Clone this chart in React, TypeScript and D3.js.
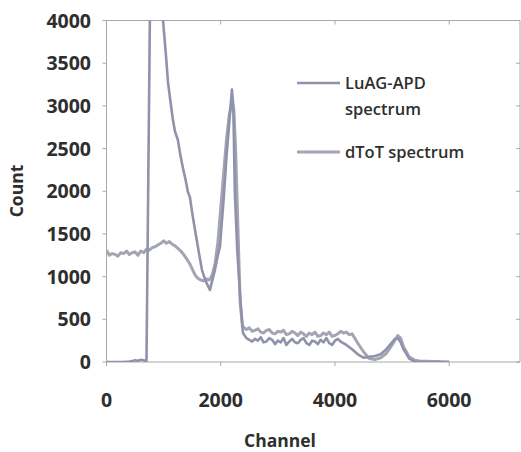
import React from "react";
import * as d3 from "d3";

const W = 521;
const H = 452;

const xTicks = [0, 2000, 4000, 6000];
const yTicks = [0, 500, 1000, 1500, 2000, 2500, 3000, 3500, 4000];

const luagChannels = [0, 100, 200, 300, 400, 450, 500, 550, 600, 650, 690, 700, 765, 850, 950, 990, 1040, 1076, 1120, 1160, 1199, 1250, 1300, 1339, 1380, 1426, 1461, 1500, 1549, 1600, 1671, 1720, 1770, 1811, 1850, 1899, 1950, 1986, 2050, 2100, 2150, 2196, 2220, 2248, 2290, 2336, 2389, 2450, 2500, 2550, 2600, 2650, 2700, 2750, 2800, 2850, 2900, 2950, 3000, 3050, 3100, 3150, 3200, 3250, 3300, 3350, 3400, 3450, 3500, 3550, 3600, 3650, 3700, 3750, 3800, 3850, 3900, 3950, 4000, 4050, 4100, 4200, 4300, 4400, 4500, 4600, 4700, 4800, 4900, 5000, 5050, 5100, 5150, 5200, 5300, 5400, 5500, 5600, 5700, 5800, 5900, 6000];
const luagCounts = [0, 0, 0, 0, 5, 10, 20, 15, 25, 20, 10, 0, 4400, 6500, 4700, 4000, 3600, 3280, 3050, 2850, 2700, 2600, 2400, 2270, 2150, 1990, 1930, 1750, 1550, 1350, 1080, 980, 900, 845, 950, 1080, 1250, 1350, 1900, 2400, 2800, 3190, 3000, 1980, 1300, 810, 340, 280, 260, 240, 270, 250, 290, 230, 240, 280, 260, 210, 250, 230, 280, 200, 240, 270, 230, 220, 260, 280, 220, 200, 250, 240, 210, 260, 230, 280, 220, 200, 250, 270, 240, 200, 150, 90, 50, 60, 70, 90, 150, 230, 270, 280, 230, 150, 40, 5, 0, 0, 0, 0, 0, 0];

const dtotChannels = [0, 50, 100, 150, 200, 250, 300, 350, 400, 450, 500, 550, 600, 650, 700, 750, 800, 850, 900, 950, 1000, 1050, 1100, 1150, 1200, 1250, 1300, 1350, 1400, 1450, 1500, 1550, 1600, 1650, 1700, 1750, 1800, 1850, 1900, 1950, 2000, 2050, 2100, 2150, 2200, 2230, 2260, 2300, 2340, 2380, 2450, 2500, 2550, 2600, 2650, 2700, 2750, 2800, 2850, 2900, 2950, 3000, 3050, 3100, 3150, 3200, 3250, 3300, 3350, 3400, 3450, 3500, 3550, 3600, 3650, 3700, 3750, 3800, 3850, 3900, 3950, 4000, 4050, 4100, 4150, 4200, 4250, 4300, 4400, 4500, 4600, 4700, 4800, 4900, 5000, 5100, 5150, 5200, 5300, 5400, 5500, 5600, 5700, 5800, 5900, 6000];
const dtotCounts = [1310, 1250, 1270, 1260, 1240, 1280, 1270, 1300, 1260, 1280, 1290, 1250, 1300, 1280, 1320, 1310, 1340, 1350, 1370, 1390, 1420, 1390, 1410, 1380, 1360, 1330, 1300, 1260, 1210, 1160, 1090, 1020, 980, 960, 950, 975, 960, 1020, 1150, 1400, 1800, 2200, 2600, 2900, 3050, 2950, 2500, 1600, 700, 420, 380, 400, 360, 370, 390, 350, 340, 370, 380, 340, 330, 360, 350, 370, 320, 330, 360, 340, 310, 350, 330, 300, 340, 320, 350, 300, 310, 340, 320, 350, 300, 310, 330, 360, 340, 350, 320, 330, 220, 120, 40, 30, 50, 100, 200, 310, 280, 180, 60, 20, 10, 10, 5, 5, 0, 0];

const luagColor = "#8f92ab";
const dtotColor = "#a4a4b4";
const textColor = "#2e2e2e";

export default function App() {
  const x = d3.scaleLinear().domain([0, 7240]).range([106.5, 520]);
  const y = d3.scaleLinear().domain([0, 4000]).range([362, 20.5]);

  const line = d3
    .line<[number, number]>()
    .x((d) => x(d[0]))
    .y((d) => y(d[1]));

  const luag: [number, number][] = luagChannels.map((c, i) => [c, luagCounts[i]]);
  const dtot: [number, number][] = dtotChannels.map((c, i) => [c, dtotCounts[i]]);

  const font = "'Open Sans', 'DejaVu Sans', sans-serif";
  const x0 = x.range()[0];
  const x1 = x.range()[1];
  const yb = y(0);
  const yt = y(4000);

  return (
    <svg
      width={W}
      height={H}
      style={{ position: "absolute", left: 0, top: 0, background: "#fff" }}
      fontFamily={font}
    >
      <defs>
        <clipPath id="plot">
          <rect x={x0} y={yt} width={x1 - x0} height={yb - yt} />
        </clipPath>
      </defs>
      {/* frame */}
      <g stroke="#a8a8a8" strokeWidth={1} fill="none">
        <line x1={x0} x2={x1} y1={yb} y2={yb} />
        <line x1={x0} x2={x1} y1={yt} y2={yt} />
        <line x1={x0} x2={x0} y1={yt} y2={yb} />
        <line x1={x1} x2={x1} y1={yt} y2={yb} />
        {yTicks.map((t) => (
          <g key={"yt" + t}>
            <line x1={x0 - 4} x2={x0} y1={y(t)} y2={y(t)} />
            <line x1={x1 - 4} x2={x1} y1={y(t)} y2={y(t)} />
          </g>
        ))}
        {xTicks.map((t) => (
          <g key={"xt" + t}>
            <line x1={x(t)} x2={x(t)} y1={yb} y2={yb + 4} />
            <line x1={x(t)} x2={x(t)} y1={yt} y2={yt + 4} />
          </g>
        ))}
      </g>
      {/* series */}
      <g clipPath="url(#plot)" fill="none" strokeLinejoin="round">
        <path d={line(dtot) || ""} stroke={dtotColor} strokeWidth={3} />
        <path d={line(luag) || ""} stroke={luagColor} strokeWidth={2.6} />
      </g>
      {/* y tick labels */}
      {yTicks.map((t) => (
        <text
          key={"yl" + t}
          x={91}
          y={y(t)}
          dy="0.36em"
          textAnchor="end"
          fontSize={19.5}
          fontWeight={700}
          fill={textColor}
        >
          {t}
        </text>
      ))}
      {/* x tick labels */}
      {xTicks.map((t) => (
        <text
          key={"xl" + t}
          x={x(t)}
          y={407}
          textAnchor="middle"
          fontSize={19.5}
          fontWeight={700}
          fill={textColor}
        >
          {t}
        </text>
      ))}
      {/* axis titles */}
      <text x={280} y={447} textAnchor="middle" fontSize={17.5} fontWeight={700} fill={textColor}>
        Channel
      </text>
      <text
        transform="translate(23,191) rotate(-90)"
        textAnchor="middle"
        fontSize={17.5}
        fontWeight={700}
        fill={textColor}
      >
        Count
      </text>
      {/* legend */}
      <line x1={297} x2={340} y1={83} y2={83} stroke={luagColor} strokeWidth={2.6} />
      <text x={345} y={89} fontSize={16.5} fontWeight={600} fill={textColor}>
        LuAG-APD
      </text>
      <text x={345} y={115} fontSize={16.5} fontWeight={600} fill={textColor}>
        spectrum
      </text>
      <line x1={297} x2={340} y1={152} y2={152} stroke={dtotColor} strokeWidth={3} />
      <text x={345} y={158} fontSize={16.5} fontWeight={600} fill={textColor}>
        dToT spectrum
      </text>
    </svg>
  );
}
